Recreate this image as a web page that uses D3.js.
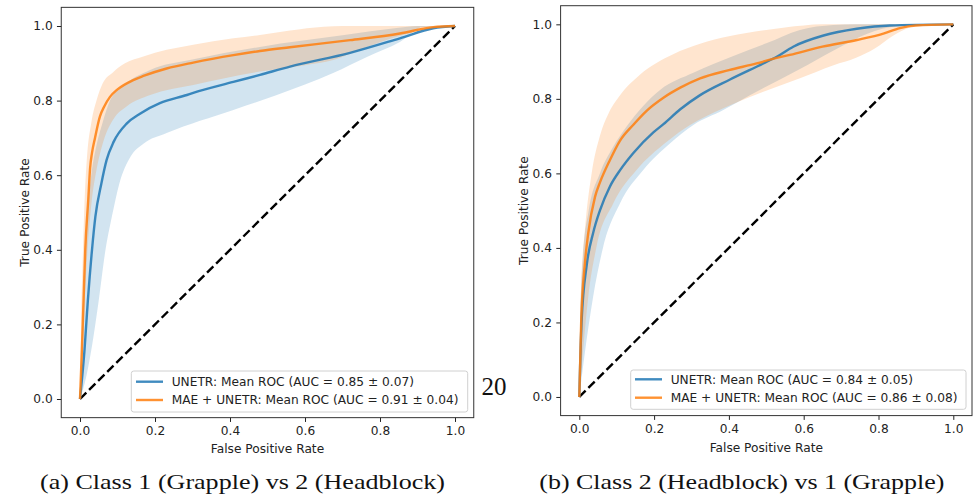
<!DOCTYPE html>
<html>
<head>
<meta charset="utf-8">
<script src="https://cdn.jsdelivr.net/npm/d3@7"></script>
<style>
  html, body { margin: 0; padding: 0; background: #fff; }
  svg { display: block; }
</style>
</head>
<body>
<svg id="fig" width="973" height="498"></svg>
<script>
// ---------- data: mean ROC curves and ±1 std bands, [fpr, tpr] ----------
const axisTicks = [0, 0.2, 0.4, 0.6, 0.8, 1.0];

// (a) Class 1 (Grapple) vs 2 (Headblock)
const unetrA_mean = [[0,0],[0.012,0.131],[0.021,0.265],[0.032,0.4],[0.041,0.489],[0.057,0.578],[0.071,0.641],[0.09,0.69],[0.125,0.739],[0.16,0.765],[0.213,0.793],[0.285,0.815],[0.3,0.82],[0.409,0.85],[0.48,0.869],[0.56,0.891],[0.72,0.928],[0.853,0.967],[0.942,0.994],[1,1]];
const unetrA_upper = [[0,0],[0.006,0.2],[0.012,0.35],[0.02,0.5],[0.03,0.6],[0.044,0.68],[0.06,0.74],[0.08,0.8],[0.11,0.835],[0.187,0.882],[0.3,0.91],[0.48,0.944],[0.7,0.975],[0.85,0.995],[0.9,1],[1,1]];
const unetrA_lower = [[0,0],[0.012,0.04],[0.03,0.131],[0.05,0.265],[0.068,0.4],[0.085,0.489],[0.105,0.578],[0.135,0.65],[0.17,0.685],[0.231,0.713],[0.409,0.775],[0.525,0.815],[0.675,0.874],[0.765,0.917],[0.853,0.957],[0.915,0.997],[1,1]];
const maeA_mean = [[0,0],[0.005,0.131],[0.01,0.28],[0.014,0.4],[0.022,0.534],[0.027,0.62],[0.032,0.66],[0.04,0.7],[0.053,0.757],[0.065,0.785],[0.08,0.81],[0.1,0.83],[0.142,0.855],[0.169,0.866],[0.231,0.886],[0.302,0.902],[0.409,0.922],[0.48,0.933],[0.56,0.943],[0.72,0.962],[0.853,0.98],[0.942,0.997],[1,1]];
const maeA_upper = [[0,0],[0.003,0.2],[0.008,0.4],[0.013,0.55],[0.018,0.64],[0.03,0.74],[0.044,0.8],[0.06,0.845],[0.089,0.877],[0.12,0.9],[0.169,0.918],[0.231,0.936],[0.302,0.95],[0.409,0.967],[0.48,0.976],[0.56,0.988],[0.65,0.998],[0.7,1],[1,1]];
const maeA_lower = [[0,0],[0.006,0.1],[0.012,0.25],[0.02,0.4],[0.03,0.52],[0.045,0.62],[0.062,0.69],[0.089,0.75],[0.125,0.785],[0.187,0.815],[0.302,0.842],[0.48,0.878],[0.6,0.895],[0.675,0.909],[0.765,0.944],[0.898,0.985],[1,1]];

// (b) Class 2 (Headblock) vs 1 (Grapple)
const unetrB_mean = [[0,0],[0.006,0.2],[0.02,0.355],[0.037,0.44],[0.055,0.5],[0.082,0.565],[0.11,0.61],[0.144,0.654],[0.198,0.71],[0.225,0.732],[0.27,0.772],[0.323,0.81],[0.403,0.852],[0.492,0.895],[0.528,0.913],[0.572,0.94],[0.653,0.97],[0.742,0.988],[0.83,0.997],[1,1]];
const unetrB_upper = [[0,0],[0.003,0.22],[0.01,0.38],[0.025,0.5],[0.055,0.6],[0.09,0.67],[0.126,0.725],[0.216,0.824],[0.305,0.87],[0.412,0.915],[0.5,0.949],[0.59,0.985],[0.68,0.998],[0.74,1],[1,1]];
const unetrB_lower = [[0,0],[0.015,0.12],[0.037,0.269],[0.064,0.403],[0.109,0.52],[0.171,0.609],[0.243,0.681],[0.305,0.73],[0.385,0.77],[0.456,0.81],[0.59,0.88],[0.68,0.93],[0.77,0.975],[0.85,0.995],[1,1]];
const maeB_mean = [[0,0],[0.005,0.2],[0.015,0.359],[0.024,0.44],[0.042,0.537],[0.055,0.575],[0.082,0.636],[0.109,0.688],[0.144,0.73],[0.18,0.768],[0.225,0.803],[0.27,0.83],[0.323,0.855],[0.4,0.877],[0.474,0.895],[0.528,0.91],[0.563,0.918],[0.65,0.94],[0.742,0.958],[0.813,0.975],[0.857,0.99],[0.9,0.997],[1,1]];
const maeB_upper = [[0,0],[0.002,0.18],[0.005,0.3],[0.015,0.448],[0.033,0.6],[0.055,0.7],[0.08,0.765],[0.109,0.81],[0.162,0.865],[0.251,0.92],[0.323,0.948],[0.4,0.968],[0.5,0.985],[0.6,0.997],[0.65,1],[1,1]];
const maeB_lower = [[0,0],[0.008,0.1],[0.024,0.269],[0.046,0.403],[0.091,0.52],[0.153,0.609],[0.234,0.685],[0.296,0.73],[0.385,0.775],[0.456,0.805],[0.59,0.855],[0.68,0.89],[0.74,0.91],[0.79,0.935],[0.84,0.97],[0.88,0.99],[0.92,1],[1,1]];

const legendA = ["UNETR: Mean ROC (AUC = 0.85 \u00b1 0.07)", "MAE + UNETR: Mean ROC (AUC = 0.91 \u00b1 0.04)"];
const legendB = ["UNETR: Mean ROC (AUC = 0.84 \u00b1 0.05)", "MAE + UNETR: Mean ROC (AUC = 0.86 \u00b1 0.08)"];
const captions = ["(a) Class 1 (Grapple) vs 2 (Headblock)", "(b) Class 2 (Headblock) vs 1 (Grapple)"];
const pageNumber = "20";

// ---------- drawing ----------
const C_BLUE = "#1f77b4", C_ORANGE = "#ff7f0e";
const SANS = "'DejaVu Sans', sans-serif";
const SERIF = "'Liberation Serif', 'DejaVu Serif', serif";
const FS = 12.2;
const svg = d3.select("#fig");

function drawPanel(p) {
  const x = d3.scaleLinear().domain([-0.05, 1.05]).range([p.x0, p.x1]);
  const y = d3.scaleLinear().domain([-0.05, 1.05]).range([p.y1, p.y0]);
  const g = svg.append("g");

  const line = d3.line().x(d => x(d[0])).y(d => y(d[1])).curve(d3.curveMonotoneX);
  const band = (up, lo) => line(up) + "L" + line(lo.slice().reverse()).slice(1) + "Z";

  g.append("path").attr("d", band(p.series[0].upper, p.series[0].lower))
    .attr("fill", C_BLUE).attr("fill-opacity", 0.2);
  g.append("path").attr("d", band(p.series[1].upper, p.series[1].lower))
    .attr("fill", C_ORANGE).attr("fill-opacity", 0.2);

  // chance diagonal
  g.append("line")
    .attr("x1", x(0)).attr("y1", y(0)).attr("x2", x(1)).attr("y2", y(1))
    .attr("stroke", "#000").attr("stroke-width", 2.4).attr("stroke-dasharray", "8.9,3.9");

  p.series.forEach((s, i) => {
    g.append("path").attr("d", line(s.mean)).attr("fill", "none")
      .attr("stroke", i === 0 ? C_BLUE : C_ORANGE).attr("stroke-opacity", 0.85)
      .attr("stroke-width", 2.4).attr("stroke-linejoin", "round");
  });

  // axes
  const ax = g.append("g").attr("transform", `translate(0,${p.y1})`)
    .call(d3.axisBottom(x).tickValues(axisTicks).tickFormat(d3.format(".1f")).tickSize(4.3).tickPadding(4.3));
  const ay = g.append("g").attr("transform", `translate(${p.x0},0)`)
    .call(d3.axisLeft(y).tickValues(axisTicks).tickFormat(d3.format(".1f")).tickSize(4.3).tickPadding(4.3));
  [ax, ay].forEach(a => {
    a.select(".domain").remove();
    a.selectAll(".tick line").attr("stroke", "#222").attr("stroke-width", 1);
    a.selectAll(".tick text").attr("font-family", SANS).attr("font-size", FS).attr("fill", "#222");
  });

  // frame
  g.append("rect").attr("x", p.x0).attr("y", p.y0)
    .attr("width", p.x1 - p.x0).attr("height", p.y1 - p.y0)
    .attr("fill", "none").attr("stroke", "#333").attr("stroke-width", 1);

  // axis labels
  g.append("text").attr("x", x(0.5)).attr("y", p.xlabY).attr("text-anchor", "middle")
    .attr("font-family", SANS).attr("font-size", FS).attr("fill", "#222").text("False Positive Rate");
  g.append("text").attr("transform", `translate(${p.ylabX},${(p.y0 + p.y1) / 2}) rotate(-90)`)
    .attr("text-anchor", "middle").attr("font-family", SANS).attr("font-size", FS).attr("fill", "#222")
    .text("True Positive Rate");

  // legend
  const L = p.legend;
  g.append("rect").attr("x", L.x).attr("y", L.y).attr("width", L.w).attr("height", L.h)
    .attr("rx", 2.5).attr("fill", "#fff").attr("fill-opacity", 0.8)
    .attr("stroke", "#d0d0d0").attr("stroke-width", 1);
  L.labels.forEach((t, i) => {
    const cy = L.rows[i];
    g.append("line").attr("x1", L.hx0).attr("x2", L.hx1).attr("y1", cy).attr("y2", cy)
      .attr("stroke", i === 0 ? C_BLUE : C_ORANGE).attr("stroke-opacity", 0.85).attr("stroke-width", 2.4);
    g.append("text").attr("x", L.tx).attr("y", cy).attr("dy", "0.36em")
      .attr("font-family", SANS).attr("font-size", FS).attr("fill", "#222").text(t);
  });

  // caption
  svg.append("text").attr("x", p.capX).attr("y", 489)
    .attr("font-family", SERIF).attr("font-size", 22).attr("fill", "#111")
    .attr("textLength", 405).attr("lengthAdjust", "spacingAndGlyphs").text(p.caption);
}

drawPanel({
  x0: 61.25, x1: 473.75, y0: 7.35, y1: 417.65,
  xlabY: 453, ylabX: 29,
  series: [
    { mean: unetrA_mean, upper: unetrA_upper, lower: unetrA_lower },
    { mean: maeA_mean, upper: maeA_upper, lower: maeA_lower }
  ],
  legend: { x: 131.3, y: 371, w: 336.4, h: 41, rows: [381.7, 400], hx0: 136, hx1: 163, tx: 171.7, labels: legendA },
  capX: 40, caption: captions[0]
});

drawPanel({
  x0: 560.6, x1: 972, y0: 5.7, y1: 415.6,
  xlabY: 451.5, ylabX: 528,
  series: [
    { mean: unetrB_mean, upper: unetrB_upper, lower: unetrB_lower },
    { mean: maeB_mean, upper: maeB_upper, lower: maeB_lower }
  ],
  legend: { x: 630.7, y: 370, w: 335.3, h: 39.3, rows: [379.3, 397.7], hx0: 635, hx1: 662, tx: 670.7, labels: legendB },
  capX: 539.3, caption: captions[1]
});

// page number between the panels
svg.append("text").attr("x", 481.5).attr("y", 395)
  .attr("font-family", SERIF).attr("font-size", 25).attr("fill", "#111").text(pageNumber);
</script>
</body>
</html>
